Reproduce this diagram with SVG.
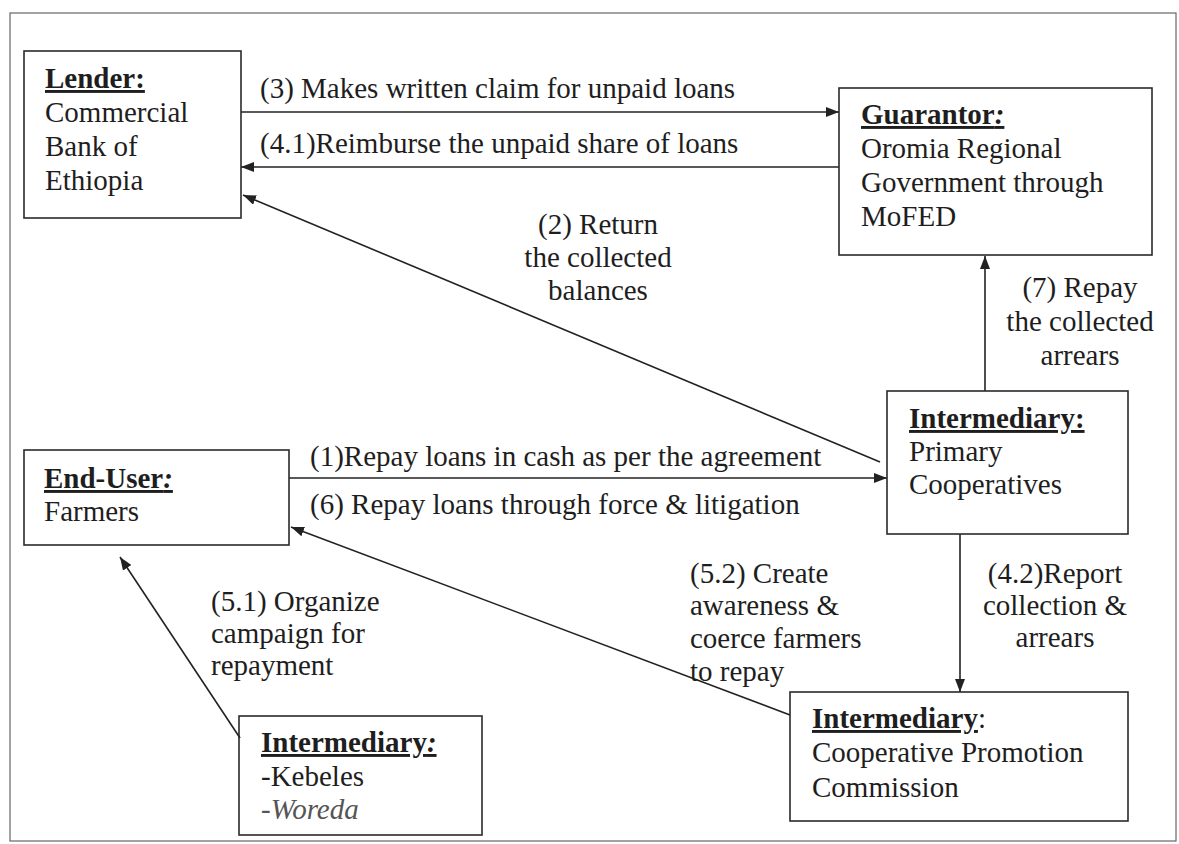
<svg xmlns="http://www.w3.org/2000/svg" width="1179" height="844" viewBox="0 0 1179 844">
<defs>
<marker id="ah" markerUnits="userSpaceOnUse" markerWidth="13" markerHeight="10" refX="13" refY="5" orient="auto">
<path d="M0,0 L13,5 L0,10 z" fill="#222"/>
</marker>
<style>
text{font-family:"Liberation Serif","Times New Roman",serif;font-size:29px;fill:#1e1e1e}
.b{font-weight:bold}
.u{text-decoration:underline}
.i{font-style:italic}
.box{fill:none;stroke:#2a2a2a;stroke-width:1.6}
.c{fill:none;stroke:#222;stroke-width:1.6;marker-end:url(#ah)}
.m{text-anchor:middle}
</style>
</defs>
<rect width="1179" height="844" fill="#fff"/>
<rect x="10" y="13" width="1166" height="828" fill="none" stroke="#666" stroke-width="1.2"/>

<g id="connectors">
<path class="c" d="M241,112 H839"/>
<path class="c" d="M839,167 H241"/>
<path class="c" d="M880,462 L243,195"/>
<path class="c" d="M985,391 V256"/>
<path class="c" d="M289,478 H887"/>
<path class="c" d="M790,715 L291,527"/>
<path class="c" d="M240,738 L120,557"/>
<path class="c" d="M960,534 V692"/>
<text x="260" y="98">(3) Makes written claim for unpaid loans</text>
<text x="260" y="153">(4.1)Reimburse the unpaid share of loans</text>
<text class="m" x="598" y="234">(2) Return</text>
<text class="m" x="598" y="267">the collected</text>
<text class="m" x="598" y="300">balances</text>
<text class="m" x="1080" y="297">(7) Repay</text>
<text class="m" x="1080" y="331">the collected</text>
<text class="m" x="1080" y="365">arrears</text>
<text x="310" y="466">(1)Repay loans in cash as per the agreement</text>
<text x="310" y="514">(6) Repay loans through force &amp; litigation</text>
<text x="211" y="611">(5.1) Organize</text>
<text x="211" y="643">campaign for</text>
<text x="211" y="675">repayment</text>
<text x="690" y="583">(5.2) Create</text>
<text x="690" y="615">awareness &amp;</text>
<text x="690" y="648">coerce farmers</text>
<text x="690" y="681">to repay</text>
<text class="m" x="1055" y="583">(4.2)Report</text>
<text class="m" x="1055" y="615">collection &amp;</text>
<text class="m" x="1055" y="647">arrears</text>
</g>

<g id="lender">
<rect class="box" x="24" y="51" width="217" height="167"/>
<text x="45" y="88" class="b u">Lender:</text>
<text x="45" y="122">Commercial</text>
<text x="45" y="156">Bank of</text>
<text x="45" y="190">Ethiopia</text>
</g>

<g id="guarantor">
<rect class="box" x="839" y="88" width="313" height="167"/>
<text x="861" y="124" class="b u">Guarantor<tspan class="i">:</tspan></text>
<text x="861" y="158">Oromia Regional</text>
<text x="861" y="192">Government through</text>
<text x="861" y="226">MoFED</text>
</g>

<g id="primary">
<rect class="box" x="887" y="391" width="241" height="143"/>
<text x="909" y="428" class="b u">Intermediary:</text>
<text x="909" y="461">Primary</text>
<text x="909" y="494">Cooperatives</text>
</g>

<g id="enduser">
<rect class="box" x="24" y="450" width="265" height="95"/>
<text x="44" y="488" class="b u">End-User<tspan class="i">:</tspan></text>
<text x="44" y="521">Farmers</text>
</g>

<g id="kebeles">
<rect class="box" x="239" y="716" width="243" height="119"/>
<text x="261" y="752" class="b u">Intermediary<tspan class="i">:</tspan></text>
<text x="261" y="786">-Kebeles</text>
<text x="261" y="819" class="i" style="fill:#555">-Woreda</text>
</g>

<g id="commission">
<rect class="box" x="790" y="692" width="338" height="129"/>
<text x="812" y="728"><tspan class="b u">Intermediary</tspan>:</text>
<text x="812" y="762">Cooperative Promotion</text>
<text x="812" y="797">Commission</text>
</g>
</svg>
